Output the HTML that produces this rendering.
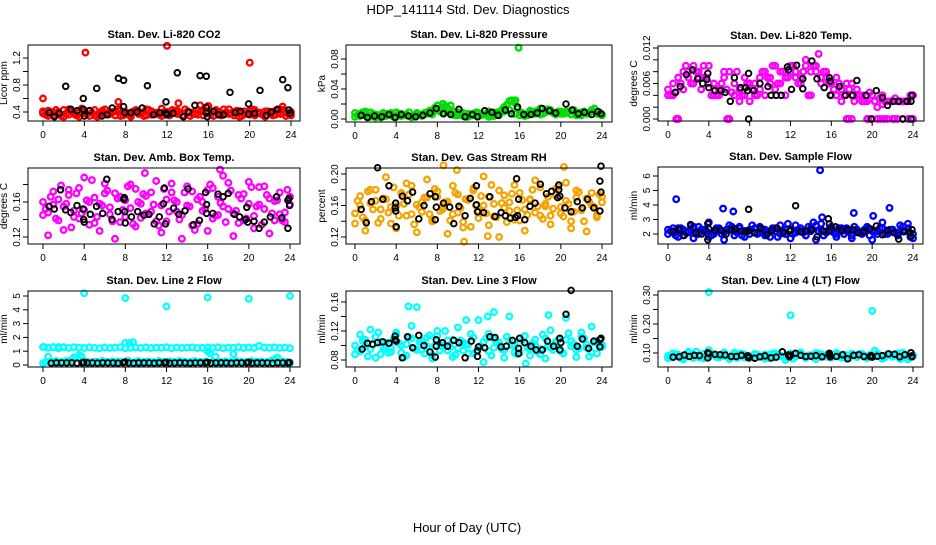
<!DOCTYPE html>
<html><head><meta charset="utf-8"><style>
html,body{margin:0;padding:0;background:#fff;}
svg text{font-family:"Liberation Sans",sans-serif;}
</style></head><body>
<svg id="chart" width="936" height="540" viewBox="0 0 936 540" xmlns="http://www.w3.org/2000/svg">
<rect width="936" height="540" fill="#fff"/>
<text x="468" y="14" font-size="13" text-anchor="middle">HDP_141114  Std. Dev. Diagnostics</text>
<text x="467" y="532" font-size="13" text-anchor="middle">Hour of Day (UTC)</text>
</svg>
<script>
// shared hours
const H = []; for (let i = 0; i <= 48; i++) H.push(i * 0.5);
const H2 = []; for (let i = 0; i < 48; i++) H2.push(0.25 + i * 0.5);
const xTicks = [0, 4, 8, 12, 16, 20, 24];

// P1 CO2
const co2A = [0.38,0.42,0.35,0.40,0.33,0.44,0.37,0.39,0.41,0.34,0.43,0.36,0.38,0.40,0.35,0.42,0.37,0.33,0.41,0.39,0.44,0.36,0.38,0.34,0.40,0.43,0.37,0.35,0.41,0.39,0.36,0.42,0.38,0.34,0.40,0.44,0.37,0.35,0.39,0.41,0.36,0.43,0.38,0.33,0.40,0.42,0.37,0.39,0.35];
const co2B = [0.36,0.40,0.43,0.34,0.38,0.41,0.35,0.45,0.37,0.39,0.33,0.42,0.36,0.40,0.44,0.35,0.38,0.41,0.37,0.34,0.43,0.39,0.36,0.40,0.35,0.42,0.38,0.44,0.34,0.37,0.41,0.39,0.36,0.43,0.35,0.40,0.38,0.42,0.34,0.37,0.44,0.39,0.36,0.41,0.35,0.38,0.43,0.37];
const co2C = [0.41,0.34,0.39,0.37,0.43,0.36,0.40,0.33,0.38,0.42,0.35,0.39,0.44,0.37,0.41,0.34,0.40,0.36,0.43,0.38,0.35,0.41,0.39,0.45,0.36,0.38,0.42,0.34,0.40,0.37,0.43,0.35,0.39,0.41,0.36,0.38,0.44,0.40,0.33,0.37,0.42,0.35,0.39,0.41,0.38,0.36,0.43,0.34,0.40];
const co2XH = [0,4.1,7.3,12,13.1,15.2,16,20,23.2];
const co2XV = [0.6,1.28,0.55,1.38,0.53,0.5,0.49,1.13,0.48];
const co2KH = [0.6,1.1,1.6,2.2,2.7,3.3,3.9,3.9,4.0,4.5,5.2,5.7,6.2,6.7,7.3,7.8,7.8,7.9,8.5,9.1,9.6,10.1,10.7,11.3,11.9,11.9,12.0,12.6,13.0,13.6,14.1,14.7,15.2,15.8,15.8,15.8,15.9,16.5,17.0,17.5,18.1,18.6,19.1,19.9,19.9,20.5,21.0,21.6,22.1,22.7,23.2,23.7,23.8,23.9];
const co2KV = [.39,.33,.38,.78,.44,.42,.60,.44,.34,.42,.75,.34,.36,.46,.90,.87,.48,.39,.39,.40,.46,.79,.36,.39,.55,.38,.36,.38,.98,.33,.40,.50,.94,.93,.47,.39,.33,.41,.36,.36,.69,.39,.41,.52,.37,.38,.72,.35,.40,.44,.88,.76,.43,.38];

// P2 pressure
const prA = [0.008,0.004,0.010,0.003,0.006,0.002,0.007,0.005,0.009,0.004,0.006,0.003,0.008,0.005,0.007,0.010,0.018,0.020,0.012,0.006,0.009,0.004,0.007,0.005,0.008,0.006,0.010,0.004,0.008,0.016,0.024,0.022,0.009,0.006,0.011,0.007,0.014,0.009,0.012,0.006,0.010,0.008,0.011,0.005,0.009,0.007,0.012,0.008,0.006];
const prB = [0.005,0.009,0.003,0.007,0.004,0.008,0.006,0.003,0.007,0.005,0.009,0.004,0.006,0.008,0.011,0.015,0.010,0.017,0.008,0.005,0.007,0.003,0.006,0.009,0.005,0.007,0.004,0.009,0.012,0.019,0.025,0.014,0.008,0.005,0.009,0.011,0.007,0.013,0.008,0.010,0.007,0.009,0.012,0.006,0.010,0.008,0.014,0.009];
const prC = [0.003,0.007,0.005,0.009,0.002,0.006,0.004,0.008,0.003,0.007,0.005,0.002,0.006,0.004,0.009,0.006,0.012,0.008,0.015,0.010,0.005,0.008,0.003,0.007,0.004,0.006,0.003,0.008,0.005,0.010,0.012,0.007,0.005,0.004,0.008,0.010,0.006,0.009,0.011,0.008,0.007,0.010,0.006,0.009,0.005,0.008,0.010,0.007,0.005];
const prXH = [15.9,8.6,15.6,9.3];
const prXV = [0.095,0.02,0.025,0.018];
const prKH = [0.6,1.2,1.9,2.6,3.3,3.9,4.5,5.2,5.9,6.6,7.3,7.9,8.6,9.3,10.1,10.7,11.4,11.9,12.6,13.3,13.9,14.6,15.2,15.8,16.4,17.1,17.7,18.2,18.9,19.5,20.5,21.1,21.7,22.3,23.0,23.6,23.9];
const prKV = [0.005,0.002,0.004,0.003,0.006,0.002,0.006,0.004,0.003,0.005,0.008,0.014,0.007,0.006,0.013,0.003,0.006,0.003,0.011,0.009,0.005,0.012,0.007,0.016,0.006,0.006,0.008,0.014,0.011,0.008,0.020,0.012,0.007,0.009,0.006,0.010,0.007];

// P3 Li-820 temp
const tpA = [0.005,0.006,0.007,0.008,0.007,0.009,0.008,0.007,0.009,0.006,0.005,0.007,0.008,0.006,0.005,0.007,0.006,0.004,0.007,0.008,0.006,0.009,0.008,0.007,0.009,0.008,0.007,0.010,0.008,0.009,0.007,0.008,0.006,0.007,0.005,0.006,0.004,0.005,0.004,0.003,0.004,0.002,0.004,0.003,0.003,0.003,0.003,0.003,0.004];
const tpB = [0.004,0.0045,0.006,0.009,0.006,0.008,0.005,0.007,0.004,0.004,0.006,0.005,0.0045,0.008,0.004,0.006,0.005,0.004,0.008,0.007,0.009,0.006,0.008,0.007,0.009,0.006,0.008,0.004,0.009,0.011,0.008,0.006,0.005,0.006,0.004,0.005,0.003,0.004,0.003,0.0045,0.003,0.0035,0.003,0.003,0.0035,0.003,0.003,0.004];
const tpC = [0.004,0.004,0,0.005,0.008,0.006,0.007,0.009,0.006,0.004,0.004,0.008,0,0.004,0.003,0.004,0.003,0.006,0.005,0.004,0.007,0.005,0.006,0.004,0.008,0.007,0.006,0.009,0.004,0.008,0.006,0.007,0.004,0.004,0.003,0,0.006,0.004,0.003,0,0,0,0.0025,0,0,0,0,0,0];
const tpXH = [0.8,1.0,5.8,6.0,17.7,18.0,19.6,20.8,21.2,22.2];
const tpXV = [0,0,0,0,0,0,0,0,0,0];
const tpKH = [0.7,1.2,1.8,2.4,2.9,3.4,3.8,3.9,4.0,4.6,5.2,5.6,6.1,6.5,7.1,7.6,7.8,7.9,8.4,9.0,9.8,10.1,10.6,11.1,11.7,11.8,12.1,12.6,13.2,13.2,14.1,14.6,15.3,15.8,15.9,15.9,16.8,17.4,18.1,18.5,19.4,20.4,21.0,21.5,22.1,22.6,23.4,23.8,23.9,7.9,19.9,23.0,23.8];
const tpKV = [0.0045,0.0055,0.0075,0.0083,0.0068,0.006,0.0067,0.0077,0.0053,0.0048,0.0048,0.0045,0.003,0.007,0.0053,0.0053,0.0048,0.0077,0.0048,0.006,0.0055,0.004,0.004,0.004,0.0088,0.0083,0.005,0.0091,0.0068,0.0051,0.0098,0.0068,0.0053,0.007,0.0064,0.004,0.0055,0.004,0.004,0.0065,0.004,0.0048,0.0036,0.0023,0.003,0.003,0.003,0.003,0.004,0,0,0,0];

// P4 amb box temp
const abA = [.160,.148,.172,.139,.155,.168,.143,.176,.151,.134,.165,.158,.181,.146,.170,.137,.162,.153,.175,.142,.167,.149,.184,.156,.138,.171,.160,.145,.178,.133,.163,.150,.174,.141,.166,.155,.182,.147,.136,.169,.158,.144,.177,.152,.164,.139,.171,.148,.157];
const abB = [.152,.166,.141,.179,.158,.131,.170,.147,.162,.185,.143,.156,.173,.138,.164,.151,.178,.135,.160,.169,.146,.157,.133,.175,.149,.162,.140,.171,.155,.128,.166,.152,.180,.144,.159,.137,.173,.150,.164,.141,.177,.155,.134,.168,.147,.162,.139,.174];
const abC = [.145,.122,.157,.163,.128,.174,.150,.141,.188,.160,.136,.127,.170,.154,.118,.166,.143,.180,.132,.158,.147,.171,.138,.125,.163,.181,.149,.118,.156,.172,.135,.160,.127,.176,.145,.190,.152,.121,.168,.139,.183,.130,.157,.178,.124,.161,.146,.137,.166];
const abXH = [17.2,9.9];
const abXV = [0.197,0.193];
const abKH = [0.6,1.1,1.7,2.2,2.7,3.3,3.9,3.95,4.0,4.6,5.2,5.8,6.2,6.7,7.3,7.85,7.9,7.95,8.0,8.6,9.2,9.8,10.3,10.8,11.3,11.7,11.8,11.9,12.7,13.2,13.8,14.1,14.6,15.2,15.8,15.9,15.9,16.5,17.0,17.5,18.0,18.6,19.1,19.8,19.7,19.9,20.5,21.0,21.5,22.1,22.7,23.2,23.8,23.8,23.9,23.95];
const abKV = [.155,.152,.174,.151,.148,.156,.152,.140,.137,.146,.155,.147,.186,.140,.149,.163,.165,.149,.136,.143,.149,.145,.146,.135,.143,.158,.176,.135,.153,.146,.150,.175,.134,.139,.171,.157,.147,.147,.169,.166,.170,.146,.143,.154,.140,.137,.138,.130,.137,.143,.166,.142,.130,.162,.164,.156];

// P5 gas stream RH
const rhA = [.150,.172,.141,.163,.180,.155,.168,.137,.159,.176,.147,.185,.161,.152,.170,.143,.178,.158,.165,.149,.174,.139,.167,.182,.153,.160,.171,.146,.179,.157,.164,.142,.176,.155,.168,.151,.183,.162,.147,.173,.158,.166,.140,.179,.154,.169,.160,.148,.171];
const rhB = [.166,.145,.178,.155,.138,.169,.151,.183,.147,.162,.174,.136,.158,.170,.149,.181,.153,.164,.141,.176,.157,.168,.133,.160,.172,.150,.186,.145,.163,.139,.175,.154,.167,.148,.180,.159,.143,.171,.156,.184,.146,.162,.152,.177,.140,.165,.158,.174];
const rhC = [.137,.160,.128,.180,.166,.143,.196,.158,.131,.175,.188,.149,.126,.164,.193,.140,.171,.155,.124,.185,.151,.132,.168,.179,.144,.197,.135,.162,.120,.173,.153,.186,.141,.128,.167,.192,.147,.159,.136,.181,.150,.189,.131,.170,.155,.127,.176,.145,.164];
const rhXH = [8.6,10.6,20.3,9.9,12.9];
const rhXV = [0.211,0.114,0.209,0.205,0.121];
const rhKH = [0.6,1.1,1.6,2.2,2.7,3.3,3.9,3.95,3.95,4.0,4.6,5.1,5.6,6.2,6.7,7.3,7.8,7.8,7.9,8.6,9.2,9.6,10.1,10.7,11.2,11.8,11.8,11.9,12.5,13.1,13.6,14.2,14.6,15.1,15.6,15.7,15.8,15.9,16.5,17.0,17.5,18.0,18.6,19.1,19.7,19.8,19.8,19.9,20.4,21.0,21.6,22.1,22.6,23.2,23.8,23.9,23.9,23.8];
const rhKV = [.155,.138,.165,.208,.168,.185,.157,.163,.153,.133,.172,.166,.177,.143,.160,.175,.171,.142,.158,.163,.158,.137,.159,.147,.169,.185,.161,.152,.151,.171,.146,.151,.147,.144,.145,.194,.147,.168,.142,.159,.163,.187,.175,.178,.170,.186,.180,.172,.157,.152,.165,.157,.168,.157,.191,.177,.210,.153];

// P6 sample flow
const sfA = [2.3,2.1,2.4,1.9,2.2,2.5,2.0,2.3,1.8,2.2,2.4,2.1,2.3,1.9,2.5,2.2,2.0,2.4,2.1,2.3,1.8,2.2,2.6,2.0,2.3,2.1,2.4,1.9,2.2,2.6,2.7,2.1,2.3,2.0,2.4,2.2,1.9,2.3,2.1,2.5,2.2,2.0,2.4,2.1,2.3,1.9,2.2,2.4,2.0];
const sfB = [2.2,1.9,2.4,2.1,2.6,2.0,2.3,2.2,1.9,2.4,2.0,2.3,2.5,2.1,1.9,2.2,2.6,2.0,2.3,2.1,2.4,1.8,2.2,2.7,2.0,2.3,2.1,2.5,2.8,2.2,1.9,2.3,2.1,2.4,2.0,2.2,2.5,2.1,2.3,1.9,2.2,2.4,2.0,2.3,2.1,2.6,2.2,1.8];
const sfC = [2.0,2.4,1.8,2.3,2.1,1.7,2.5,2.2,2.8,2.0,2.3,1.6,2.6,2.2,2.4,1.8,2.3,2.1,2.5,1.9,2.2,2.4,2.0,2.3,1.7,2.6,2.2,1.9,2.4,1.6,2.3,2.1,2.5,1.8,2.2,2.4,1.7,2.3,2.0,2.4,1.6,2.2,2.8,2.0,2.3,2.1,2.5,2.7,1.7];
const sfXH = [0.8,5.4,6.4,14.9,18.2,20.1,21.7,15.1];
const sfXV = [4.4,3.75,3.55,6.4,3.45,3.25,3.8,3.15];
const sfKH = [0.5,1.1,1.6,2.2,2.7,3.3,3.9,3.9,4.0,4.6,5.2,5.7,6.2,6.6,7.1,7.6,7.9,7.9,8.5,9.1,9.7,10.2,10.7,11.3,11.9,12.0,12.5,13.0,13.5,14.1,14.6,15.2,15.7,15.8,15.8,16.4,17.0,17.6,18.1,18.6,19.2,19.8,20.4,21.0,21.5,22.1,22.6,23.1,23.7,23.8,23.9];
const sfKV = [2.2,2.3,1.9,2.65,2.1,2.0,2.7,1.6,2.35,2.25,2.25,2.0,2.3,2.35,2.2,2.2,3.7,2.2,2.1,2.4,1.95,2.25,2.4,2.1,2.2,2.3,3.95,2.15,2.2,2.3,1.8,2.2,3.05,2.7,2.2,2.5,2.25,2.3,2.3,2.1,2.15,2.35,2.55,1.95,2.25,2.1,1.65,2.15,2.1,1.85,2.3];

// P7 line 2 flow
const l2A = [1.30,1.25,1.28,1.22,1.27,1.24,1.29,1.26,1.23,1.28,1.25,1.21,1.27,1.24,1.26,1.29,1.22,1.25,1.27,1.24,1.28,1.23,1.26,1.25,1.29,1.22,1.27,1.24,1.26,1.28,1.23,1.25,1.27,1.24,1.28,1.22,1.26,1.25,1.29,1.24,1.27,1.23,1.38,1.26,1.25,1.28,1.24,1.27,1.22];
const l2B = [0.20,0.25,0.30,0.22,0.28,0.35,0.50,0.62,0.26,0.21,0.24,0.30,0.22,0.27,0.25,0.20,0.31,1.65,0.28,0.23,0.26,0.21,0.29,0.24,0.27,0.22,0.30,0.25,0.21,0.28,0.24,0.26,0.85,0.60,0.22,0.27,0.23,0.30,0.25,0.21,0.28,0.24,0.26,0.22,0.35,0.55,0.27,0.23];
const l2C = [0.12,0.60,0.22,0.18,0.25,0.28,0.55,0.70,0.18,0.15,0.22,0.19,0.24,0.20,0.17,0.23,1.60,0.19,0.21,0.16,0.24,0.18,0.22,0.20,0.17,0.25,0.19,0.21,0.18,0.23,0.20,0.17,1.00,0.25,0.19,0.22,0.20,0.80,0.24,0.18,0.21,0.19,0.23,0.17,0.22,0.40,0.20,0.18,0.15];
const l2XH = [4.0,8.0,12.0,16.0,20.0,24.0,8.4,0.1,1.0,1.5,2.0];
const l2XV = [5.2,4.85,4.25,4.9,4.8,5.0,1.6,1.3,1.3,1.3,1.3];
const l2KH = [0.8,1.3,1.8,2.3,2.8,3.3,3.8,3.95,4.3,4.8,5.3,5.8,6.3,6.8,7.3,7.8,7.95,8.3,8.8,9.3,9.8,10.3,10.8,11.3,11.8,11.95,12.3,12.8,13.3,13.8,14.3,14.8,15.3,15.8,15.95,16.3,16.8,17.3,17.8,18.3,18.8,19.3,19.8,19.95,20.3,20.8,21.3,21.8,22.3,22.8,23.3,23.8,23.95];
const l2KV = [0.14,0.16,0.15,0.15,0.17,0.14,0.15,0.2,0.16,0.15,0.14,0.16,0.15,0.15,0.14,0.16,0.22,0.15,0.14,0.16,0.15,0.15,0.14,0.16,0.15,0.2,0.14,0.15,0.16,0.15,0.14,0.15,0.16,0.15,0.2,0.14,0.15,0.16,0.15,0.14,0.16,0.15,0.15,0.2,0.14,0.16,0.15,0.15,0.14,0.16,0.15,0.15,0.18];

// P8 line 3 flow
const l3A = [.100,.092,.108,.095,.112,.088,.104,.097,.115,.090,.102,.110,.094,.106,.099,.087,.113,.101,.093,.108,.096,.104,.089,.111,.098,.105,.092,.109,.100,.094,.107,.090,.103,.113,.096,.101,.088,.110,.097,.105,.092,.108,.099,.094,.112,.101,.090,.106,.098];
const l3B = [.094,.106,.085,.101,.118,.097,.090,.109,.103,.084,.111,.096,.105,.089,.114,.100,.093,.120,.098,.087,.107,.102,.116,.091,.099,.110,.086,.104,.095,.112,.100,.088,.107,.097,.103,.091,.115,.099,.094,.108,.089,.117,.102,.096,.110,.085,.104,.100];
const l3C = [.088,.115,.099,.122,.083,.105,.096,.091,.118,.100,.086,.127,.153,.094,.111,.082,.120,.098,.107,.084,.125,.093,.101,.089,.135,.077,.116,.097,.104,.083,.140,.099,.090,.113,.086,.108,.095,.082,.121,.100,.094,.138,.106,.084,.118,.097,.126,.089,.101];
const l3XH = [5.2,13.5,12.9,18.8,10.8,16.6];
const l3XV = [0.154,0.146,0.140,0.142,0.135,0.075];
const l3KH = [0.7,1.2,1.7,2.2,2.7,3.3,3.9,3.9,4.0,4.6,5.1,5.6,6.2,6.7,7.3,7.8,7.9,7.9,8.5,9.0,9.6,10.1,10.7,11.3,11.9,11.9,12.0,12.6,13.1,13.6,14.2,14.7,15.3,15.9,15.9,16.0,16.5,17.1,17.6,18.2,18.7,19.3,19.9,19.9,20.0,20.5,21.0,21.6,22.1,22.7,23.2,23.8,23.9,23.8];
const l3KV = [.095,.103,.102,.104,.105,.103,.113,.108,.106,.083,.112,.097,.114,.100,.091,.084,.108,.099,.104,.099,.107,.104,.083,.106,.085,.093,.098,.097,.112,.111,.098,.099,.107,.096,.089,.110,.104,.099,.094,.094,.106,.099,.110,.094,.104,.143,.176,.099,.109,.096,.106,.098,.110,.108];

// P9 line 4 flow
const l4A = [.090,.085,.095,.088,.100,.083,.092,.097,.086,.094,.089,.102,.087,.093,.098,.084,.091,.096,.088,.095,.082,.099,.090,.086,.094,.089,.097,.085,.092,.100,.087,.093,.088,.096,.084,.091,.098,.086,.094,.090,.087,.099,.083,.095,.089,.092,.101,.086,.090];
const l4B = [.087,.096,.082,.093,.089,.105,.085,.091,.098,.086,.094,.088,.092,.083,.097,.090,.086,.095,.088,.084,.099,.091,.087,.094,.080,.096,.089,.092,.085,.098,.090,.086,.093,.088,.095,.083,.091,.097,.087,.093,.108,.089,.085,.096,.091,.079,.094,.088];
const l4C = [.082,.099,.088,.078,.104,.092,.086,.081,.110,.095,.084,.090,.079,.101,.087,.093,.083,.097,.089,.080,.094,.085,.091,.076,.098,.088,.102,.083,.092,.079,.096,.087,.084,.100,.090,.081,.093,.086,.097,.082,.089,.095,.080,.091,.087,.099,.084,.078,.092];
const l4XH = [4.0,12.0,20.0];
const l4XV = [0.31,0.23,0.245];
const l4KH = [0.5,1.1,1.6,2.1,2.6,3.1,3.9,3.9,4.0,4.6,5.1,5.6,6.2,6.7,7.2,7.8,7.9,7.95,8.5,9.0,9.5,10.1,10.6,11.2,11.8,11.9,12.0,12.5,13.0,13.5,14.0,14.5,15.1,15.8,15.8,15.9,16.5,17.1,17.6,18.2,18.7,19.2,19.8,19.9,20.0,20.5,21.0,21.6,22.2,22.7,23.2,23.8,23.9,23.9];
const l4KV = [.086,.087,.093,.088,.092,.091,.101,.083,.098,.095,.094,.093,.088,.088,.092,.090,.083,.086,.082,.087,.090,.083,.086,.104,.093,.087,.092,.099,.092,.088,.089,.091,.087,.093,.099,.087,.088,.094,.080,.092,.094,.088,.088,.091,.086,.089,.091,.097,.096,.087,.094,.101,.090,.087];

// y-axis tick values & labels
const p1Ticks = [0.4,0.6,0.8,1.0,1.2], p1Labels = ["0.4","","0.8","","1.2"];
const p2Ticks = [0,0.02,0.04,0.06,0.08], p2Labels = ["0.00","","0.04","","0.08"];
const p3Ticks = [0,0.002,0.004,0.006,0.008,0.010,0.012], p3Labels = ["0.000","","","0.006","","","0.012"];
const p4Ticks = [0.12,0.14,0.16,0.18], p4Labels = ["0.12","","0.16",""];
const p5Ticks = [0.12,0.14,0.16,0.18,0.20], p5Labels = ["0.12","","0.16","","0.20"];
const p6Ticks = [2,3,4,5,6], p6Labels = ["2","3","4","5","6"];
const p7Ticks = [0,1,2,3,4,5], p7Labels = ["0","1","2","3","4","5"];
const p8Ticks = [0.08,0.10,0.12,0.14,0.16], p8Labels = ["0.08","","0.12","","0.16"];
const p9Ticks = [0.10,0.15,0.20,0.25,0.30], p9Labels = ["0.10","","0.20","","0.30"];

const NS = "http://www.w3.org/2000/svg";
const svg = document.getElementById("chart");
function mk(tag, attrs, parent) {
  const e = document.createElementNS(NS, tag);
  for (const k in attrs) e.setAttribute(k, attrs[k]);
  (parent || svg).appendChild(e);
  return e;
}

const panels = [
  {id:"co2", title:"Stan. Dev. Li-820 CO2", ylab:"Licor ppm", box:[28,45,300,121], x0:43, x24:291, v1:0.4, p1:112, v2:1.2, p2:58, col:"#ff0000", A:co2A,B:co2B,C:co2C,XH:co2XH,XV:co2XV,KH:co2KH,KV:co2KV,ticks:p1Ticks,labels:p1Labels},
  {id:"pressure", title:"Stan. Dev. Li-820 Pressure", ylab:"kPa", box:[346,45,612,122], x0:355, x24:602, v1:0, p1:119, v2:0.08, p2:59, col:"#00dd00", A:prA,B:prB,C:prC,XH:prXH,XV:prXV,KH:prKH,KV:prKV,ticks:p2Ticks,labels:p2Labels},
  {id:"li820-temp", title:"Stan. Dev. Li-820 Temp.", ylab:"degrees C", box:[658,46,924,121], x0:668, x24:913, v1:0, p1:119, v2:0.012, p2:48, col:"#ff00ff", A:tpA,B:tpB,C:tpC,XH:tpXH,XV:tpXV,KH:tpKH,KV:tpKV,ticks:p3Ticks,labels:p3Labels},
  {id:"amb-box-temp", title:"Stan. Dev. Amb. Box Temp.", ylab:"degrees C", box:[28,168,300,244], x0:43, x24:290, v1:0.12, p1:237, v2:0.16, p2:202, col:"#ff00ff", A:abA,B:abB,C:abC,XH:abXH,XV:abXV,KH:abKH,KV:abKV,ticks:p4Ticks,labels:p4Labels},
  {id:"gas-rh", title:"Stan. Dev. Gas Stream RH", ylab:"percent", box:[346,168,612,244], x0:355, x24:602, v1:0.12, p1:237, v2:0.20, p2:174, col:"#f5a300", A:rhA,B:rhB,C:rhC,XH:rhXH,XV:rhXV,KH:rhKH,KV:rhKV,ticks:p5Ticks,labels:p5Labels},
  {id:"sample-flow", title:"Stan. Dev. Sample Flow", ylab:"ml/min", box:[658,167,923,244], x0:668, x24:913, v1:2, p1:234, v2:6, p2:176, col:"#0000ff", A:sfA,B:sfB,C:sfC,XH:sfXH,XV:sfXV,KH:sfKH,KV:sfKV,ticks:p6Ticks,labels:p6Labels},
  {id:"line2-flow", title:"Stan. Dev. Line 2 Flow", ylab:"ml/min", box:[28,291,300,367], x0:43, x24:290, v1:0, p1:365, v2:5, p2:296, col:"#00ffff", A:l2A,B:l2B,C:l2C,XH:l2XH,XV:l2XV,KH:l2KH,KV:l2KV,ticks:p7Ticks,labels:p7Labels},
  {id:"line3-flow", title:"Stan. Dev. Line 3 Flow", ylab:"ml/min", box:[346,291,612,367], x0:355, x24:602, v1:0.08, p1:360, v2:0.16, p2:302, col:"#00ffff", A:l3A,B:l3B,C:l3C,XH:l3XH,XV:l3XV,KH:l3KH,KV:l3KV,ticks:p8Ticks,labels:p8Labels},
  {id:"line4-flow", title:"Stan. Dev. Line 4 (LT) Flow", ylab:"ml/min", box:[658,291,923,367], x0:668, x24:913, v1:0.10, p1:353, v2:0.30, p2:295, col:"#00ffff", A:l4A,B:l4B,C:l4C,XH:l4XH,XV:l4XV,KH:l4KH,KV:l4KV,ticks:p9Ticks,labels:p9Labels}
];

panels.forEach(p => {
  const g = mk("g", {});
  
  
  const xs = h => p.x0 + (p.x24 - p.x0) * h / 24;
  const ys = v => p.p1 + (v - p.v1) * (p.p2 - p.p1) / (p.v2 - p.v1);
  const [L, T, R, B] = p.box;
  const cx = (L + R) / 2;

  const title = mk("text", {x: cx, y: T - 7, "font-size": 11, "font-weight": "bold", "text-anchor": "middle"}, g);
  title.textContent = p.title;
  
  

  const yl = mk("text", {x: 0, y: 0, "font-size": 10, "text-anchor": "middle", transform: `translate(${L - 21},${(T + B) / 2}) rotate(-90)`}, g);
  yl.textContent = p.ylab;
  
  

  const pts = mk("g", {fill: "none"}, g);
  
  
  const dot = (h, v, c, name, sw) => {
    const y = ys(v);
    if (y < T - 4 || y > B + 4) return;
    const ci = mk("circle", {cx: xs(h).toFixed(1), cy: y.toFixed(1), r: 2.8, stroke: c, "stroke-width": sw}, pts);
    
    
  };
  H.forEach((h, i) => dot(h, p.A[i], p.col, 'point', 2.3));
  H2.forEach((h, i) => dot(h, p.B[i], p.col, 'point', 2.3));
  H.forEach((h, i) => dot(h, p.C[i], p.col, 'point', 2.3));
  p.XH.forEach((h, i) => dot(h, p.XV[i], p.col, 'outlier-point', 2.3));
  p.KH.forEach((h, i) => dot(h, p.KV[i], "#000", 'black-point', 1.9));

  const box = mk("rect", {x: L, y: T, width: R - L, height: B - T, fill: "none", stroke: "#000", "stroke-width": 1}, g);
  
  

  const xa = mk("g", {}, g);
  
  
  mk("line", {x1: xs(0), x2: xs(24), y1: B, y2: B, stroke: "#000"}, xa);
  xTicks.forEach(t => {
    mk("line", {x1: xs(t), x2: xs(t), y1: B, y2: B + 5, stroke: "#000"}, xa);
    const tx = mk("text", {x: xs(t), y: B + 17, "font-size": 10, "text-anchor": "middle"}, xa);
    tx.textContent = t;
    
    
  });

  const ya = mk("g", {}, g);
  
  
  mk("line", {x1: L, x2: L, y1: ys(p.ticks[0]), y2: ys(p.ticks[p.ticks.length - 1]), stroke: "#000"}, ya);
  p.ticks.forEach((t, i) => {
    const y = ys(t);
    mk("line", {x1: L - 5, x2: L, y1: y, y2: y, stroke: "#000"}, ya);
    if (p.labels[i]) {
      const tx = mk("text", {x: 0, y: 0, "font-size": 10, "text-anchor": "middle", transform: `translate(${L - 8},${y}) rotate(-90)`}, ya);
      tx.textContent = p.labels[i];
      
      
    }
  });
});
</script>
</body></html>
